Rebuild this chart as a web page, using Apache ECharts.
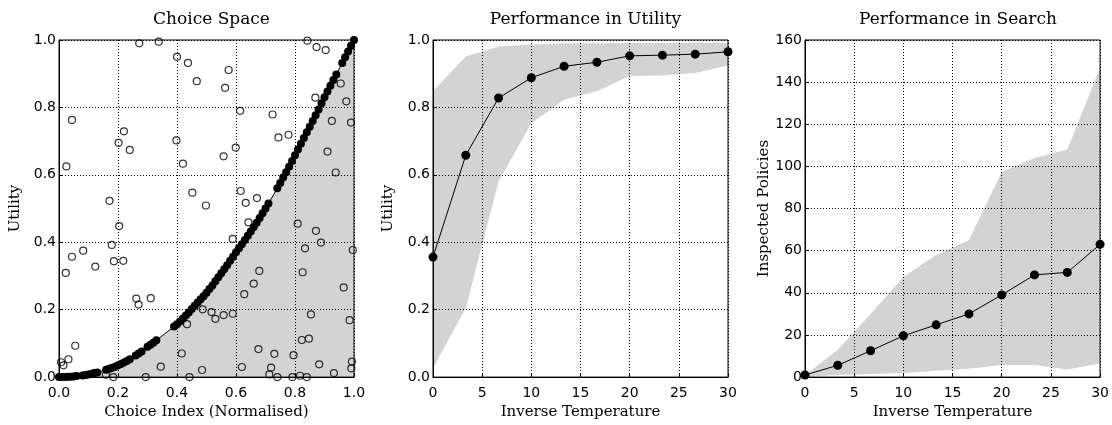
<!DOCTYPE html>
<html>
<head>
<meta charset="utf-8">
<script src="https://cdn.jsdelivr.net/npm/echarts@6/dist/echarts.min.js"></script>
<style>
html,body{margin:0;padding:0;background:#fff;}
#chart{width:1112px;height:425px;}
</style>
</head>
<body>
<div id="chart"></div>
<script>
// ---------- Panel 1: Choice Space ----------
const curveX = [0.00,0.01,0.02,0.03,0.04,0.05,0.06,0.08,0.09,0.10,0.11,0.12,0.13,0.16,0.17,0.18,0.19,0.20,0.21,0.22,0.23,0.24,0.26,0.27,0.28,0.30,0.31,0.32,0.33,0.39,0.40,0.41,0.42,0.43,0.44,0.45,0.46,0.47,0.48,0.49,0.50,0.51,0.52,0.53,0.54,0.55,0.56,0.57,0.58,0.59,0.60,0.61,0.62,0.63,0.64,0.65,0.66,0.67,0.68,0.69,0.70,0.71,0.74,0.75,0.76,0.77,0.78,0.79,0.80,0.81,0.82,0.83,0.84,0.85,0.86,0.87,0.88,0.89,0.90,0.91,0.92,0.93,0.94,0.96,0.97,0.98,0.99,1.00];
const curveY = [0.000,0.000,0.000,0.001,0.001,0.002,0.003,0.005,0.006,0.008,0.010,0.012,0.014,0.022,0.025,0.028,0.031,0.035,0.039,0.043,0.048,0.053,0.064,0.070,0.076,0.090,0.096,0.102,0.109,0.150,0.157,0.165,0.174,0.183,0.192,0.202,0.212,0.221,0.231,0.240,0.250,0.261,0.272,0.284,0.296,0.308,0.320,0.332,0.345,0.357,0.370,0.382,0.394,0.407,0.419,0.432,0.445,0.458,0.472,0.486,0.500,0.515,0.560,0.576,0.592,0.608,0.624,0.641,0.658,0.675,0.692,0.709,0.726,0.743,0.760,0.777,0.794,0.812,0.830,0.847,0.864,0.881,0.898,0.932,0.949,0.966,0.983,1.000];
const choiceX = [0.272,0.338,0.400,0.437,0.467,0.044,0.025,0.220,0.202,0.240,0.398,0.420,0.452,0.171,0.575,0.563,0.842,0.873,0.904,0.614,0.724,0.869,0.955,0.974,0.925,0.990,0.744,0.778,0.599,0.558,0.910,0.938,0.498,0.616,0.633,0.671,0.204,0.179,0.082,0.044,0.023,0.123,0.186,0.218,0.262,0.270,0.311,0.434,0.416,0.055,0.032,0.007,0.015,0.345,0.159,0.184,0.294,0.442,0.642,0.589,0.809,0.871,0.834,0.888,0.996,0.679,0.660,0.826,0.628,0.965,0.487,0.517,0.530,0.558,0.589,0.854,0.985,0.823,0.847,0.676,0.730,0.795,0.882,0.993,0.991,0.485,0.620,0.719,0.713,0.740,0.791,0.817,0.840,0.932];
const choiceY = [0.990,0.995,0.950,0.932,0.878,0.763,0.625,0.729,0.695,0.674,0.702,0.633,0.547,0.523,0.911,0.858,0.998,0.979,0.970,0.790,0.779,0.829,0.871,0.818,0.760,0.755,0.711,0.719,0.681,0.655,0.669,0.607,0.509,0.552,0.517,0.531,0.448,0.392,0.375,0.357,0.309,0.328,0.344,0.345,0.233,0.215,0.234,0.157,0.070,0.093,0.053,0.044,0.035,0.031,0.007,0.000,0.000,0.000,0.459,0.410,0.455,0.434,0.382,0.399,0.377,0.315,0.277,0.311,0.246,0.266,0.201,0.193,0.173,0.184,0.188,0.186,0.169,0.110,0.114,0.083,0.069,0.065,0.038,0.046,0.026,0.021,0.030,0.028,0.008,0.000,0.000,0.004,0.000,0.012];

// ---------- Panels 2 & 3 ----------
const beta = [0,3.333,6.667,10,13.333,16.667,20,23.333,26.667,30];
const utilMean = [0.356,0.658,0.828,0.888,0.922,0.934,0.953,0.955,0.958,0.965];
const utilLow  = [0.026,0.205,0.580,0.753,0.823,0.848,0.893,0.895,0.902,0.924];
const utilHigh = [0.849,0.951,0.981,0.987,0.990,0.990,0.991,0.991,0.992,0.992];
const searchMean = [1.0,5.6,12.5,19.6,24.8,30.0,39.0,48.5,49.7,63.0];
const searchLow  = [0.0,1.0,1.5,2.0,3.0,4.0,5.8,5.8,3.6,6.5];
const searchHigh = [1.0,13.0,30.0,47.5,58.0,65.0,97.5,104.0,108.0,147.0];

const titles = ['Choice Space','Performance in Utility','Performance in Search'];
const xNames = ['Choice Index (Normalised)','Inverse Temperature','Inverse Temperature'];
const yNames = ['Utility','Utility','Inspected Policies'];

const serif = 'DejaVu Serif';
const sans = 'DejaVu Sans';
const fill = 'rgba(0,0,0,0.173)';

const grids = [
  {left:59, top:40, width:295, height:344},
  {left:433, top:40, width:295, height:344},
  {left:805, top:40, width:296, height:344}
];

function zip(a,b){return a.map((v,i)=>[v,b[i]]);}

const gridLine = {show:true, lineStyle:{color:'#000', width:1, type:[1,2]}};
const axisLine = {show:true, lineStyle:{color:'#000', width:1}};
const tick = {show:true, inside:true, length:4, lineStyle:{color:'#000'}};

function xAxis(i, max, interval, fmt){
  return {type:'value', gridIndex:i, min:0, max:max, interval:interval,
    name:xNames[i], nameLocation:'middle', nameGap:27,
    nameTextStyle:{fontFamily:serif, fontSize:15, color:'#000'},
    axisLine:axisLine, axisTick:tick, splitLine:gridLine,
    axisLabel:{fontFamily:sans, fontSize:14, color:'#000', margin:9, formatter:fmt}};
}
function yAxis(i, max, interval, fmt, nameGap){
  return {type:'value', gridIndex:i, min:0, max:max, interval:interval,
    name:yNames[i], nameLocation:'middle', nameGap:nameGap, nameRotate:90,
    nameTextStyle:{fontFamily:serif, fontSize:15, color:'#000'},
    axisLine:axisLine, axisTick:tick, splitLine:gridLine,
    axisLabel:{fontFamily:sans, fontSize:14, color:'#000', margin:3, formatter:fmt}};
}
const f1 = v => v.toFixed(1);
const f0 = v => String(v);

function band(xs, lo, hi){
  return function(params, api){
    const upper = xs.map((x,i)=>api.coord([x, hi[i]]));
    const lower = xs.map((x,i)=>api.coord([x, lo[i]])).reverse();
    return {type:'polygon', shape:{points:upper.concat(lower)}, style:{fill:fill, stroke:null}};
  };
}

const option = {
  animation:false,
  backgroundColor:'#fff',
  title: titles.map((t,i)=>({text:t, left:grids[i].left+grids[i].width/2, top:6, textAlign:'center',
    textStyle:{fontFamily:serif, fontSize:17, fontWeight:'normal', color:'#000'}})),
  grid: grids.map(g=>Object.assign({show:true, borderColor:'#000', borderWidth:1, backgroundColor:'transparent'}, g)),
  xAxis:[xAxis(0,1,0.2,f1), xAxis(1,30,5,f0), xAxis(2,30,5,f0)],
  yAxis:[yAxis(0,1,0.2,f1,36), yAxis(1,1,0.2,f1,37), yAxis(2,160,20,f0,33)],
  series:[
    {type:'line', xAxisIndex:0, yAxisIndex:0, data:zip(curveX,curveY),
      symbol:'circle', symbolSize:8, itemStyle:{color:'#000'}, lineStyle:{color:'#000', width:1},
      areaStyle:{color:fill, opacity:1}, z:3},
    {type:'scatter', xAxisIndex:0, yAxisIndex:0, data:zip(choiceX,choiceY),
      symbol:'circle', symbolSize:7, itemStyle:{color:'rgba(0,0,0,0)', borderColor:'#000', borderWidth:1.2}, z:4},

    {type:'custom', xAxisIndex:1, yAxisIndex:1, data:[[0,0]], renderItem:band(beta,utilLow,utilHigh), silent:true, z:1},
    {type:'line', xAxisIndex:1, yAxisIndex:1, data:zip(beta,utilMean),
      symbol:'circle', symbolSize:9, itemStyle:{color:'#000'}, lineStyle:{color:'#000', width:1}, z:3},

    {type:'custom', xAxisIndex:2, yAxisIndex:2, data:[[0,0]], renderItem:band(beta,searchLow,searchHigh), silent:true, z:1},
    {type:'line', xAxisIndex:2, yAxisIndex:2, data:zip(beta,searchMean),
      symbol:'circle', symbolSize:9, itemStyle:{color:'#000'}, lineStyle:{color:'#000', width:1}, z:3}
  ]
};
const chart = echarts.init(document.getElementById('chart'), null, {renderer:'canvas'});
chart.setOption(option);
</script>
</body>
</html>
